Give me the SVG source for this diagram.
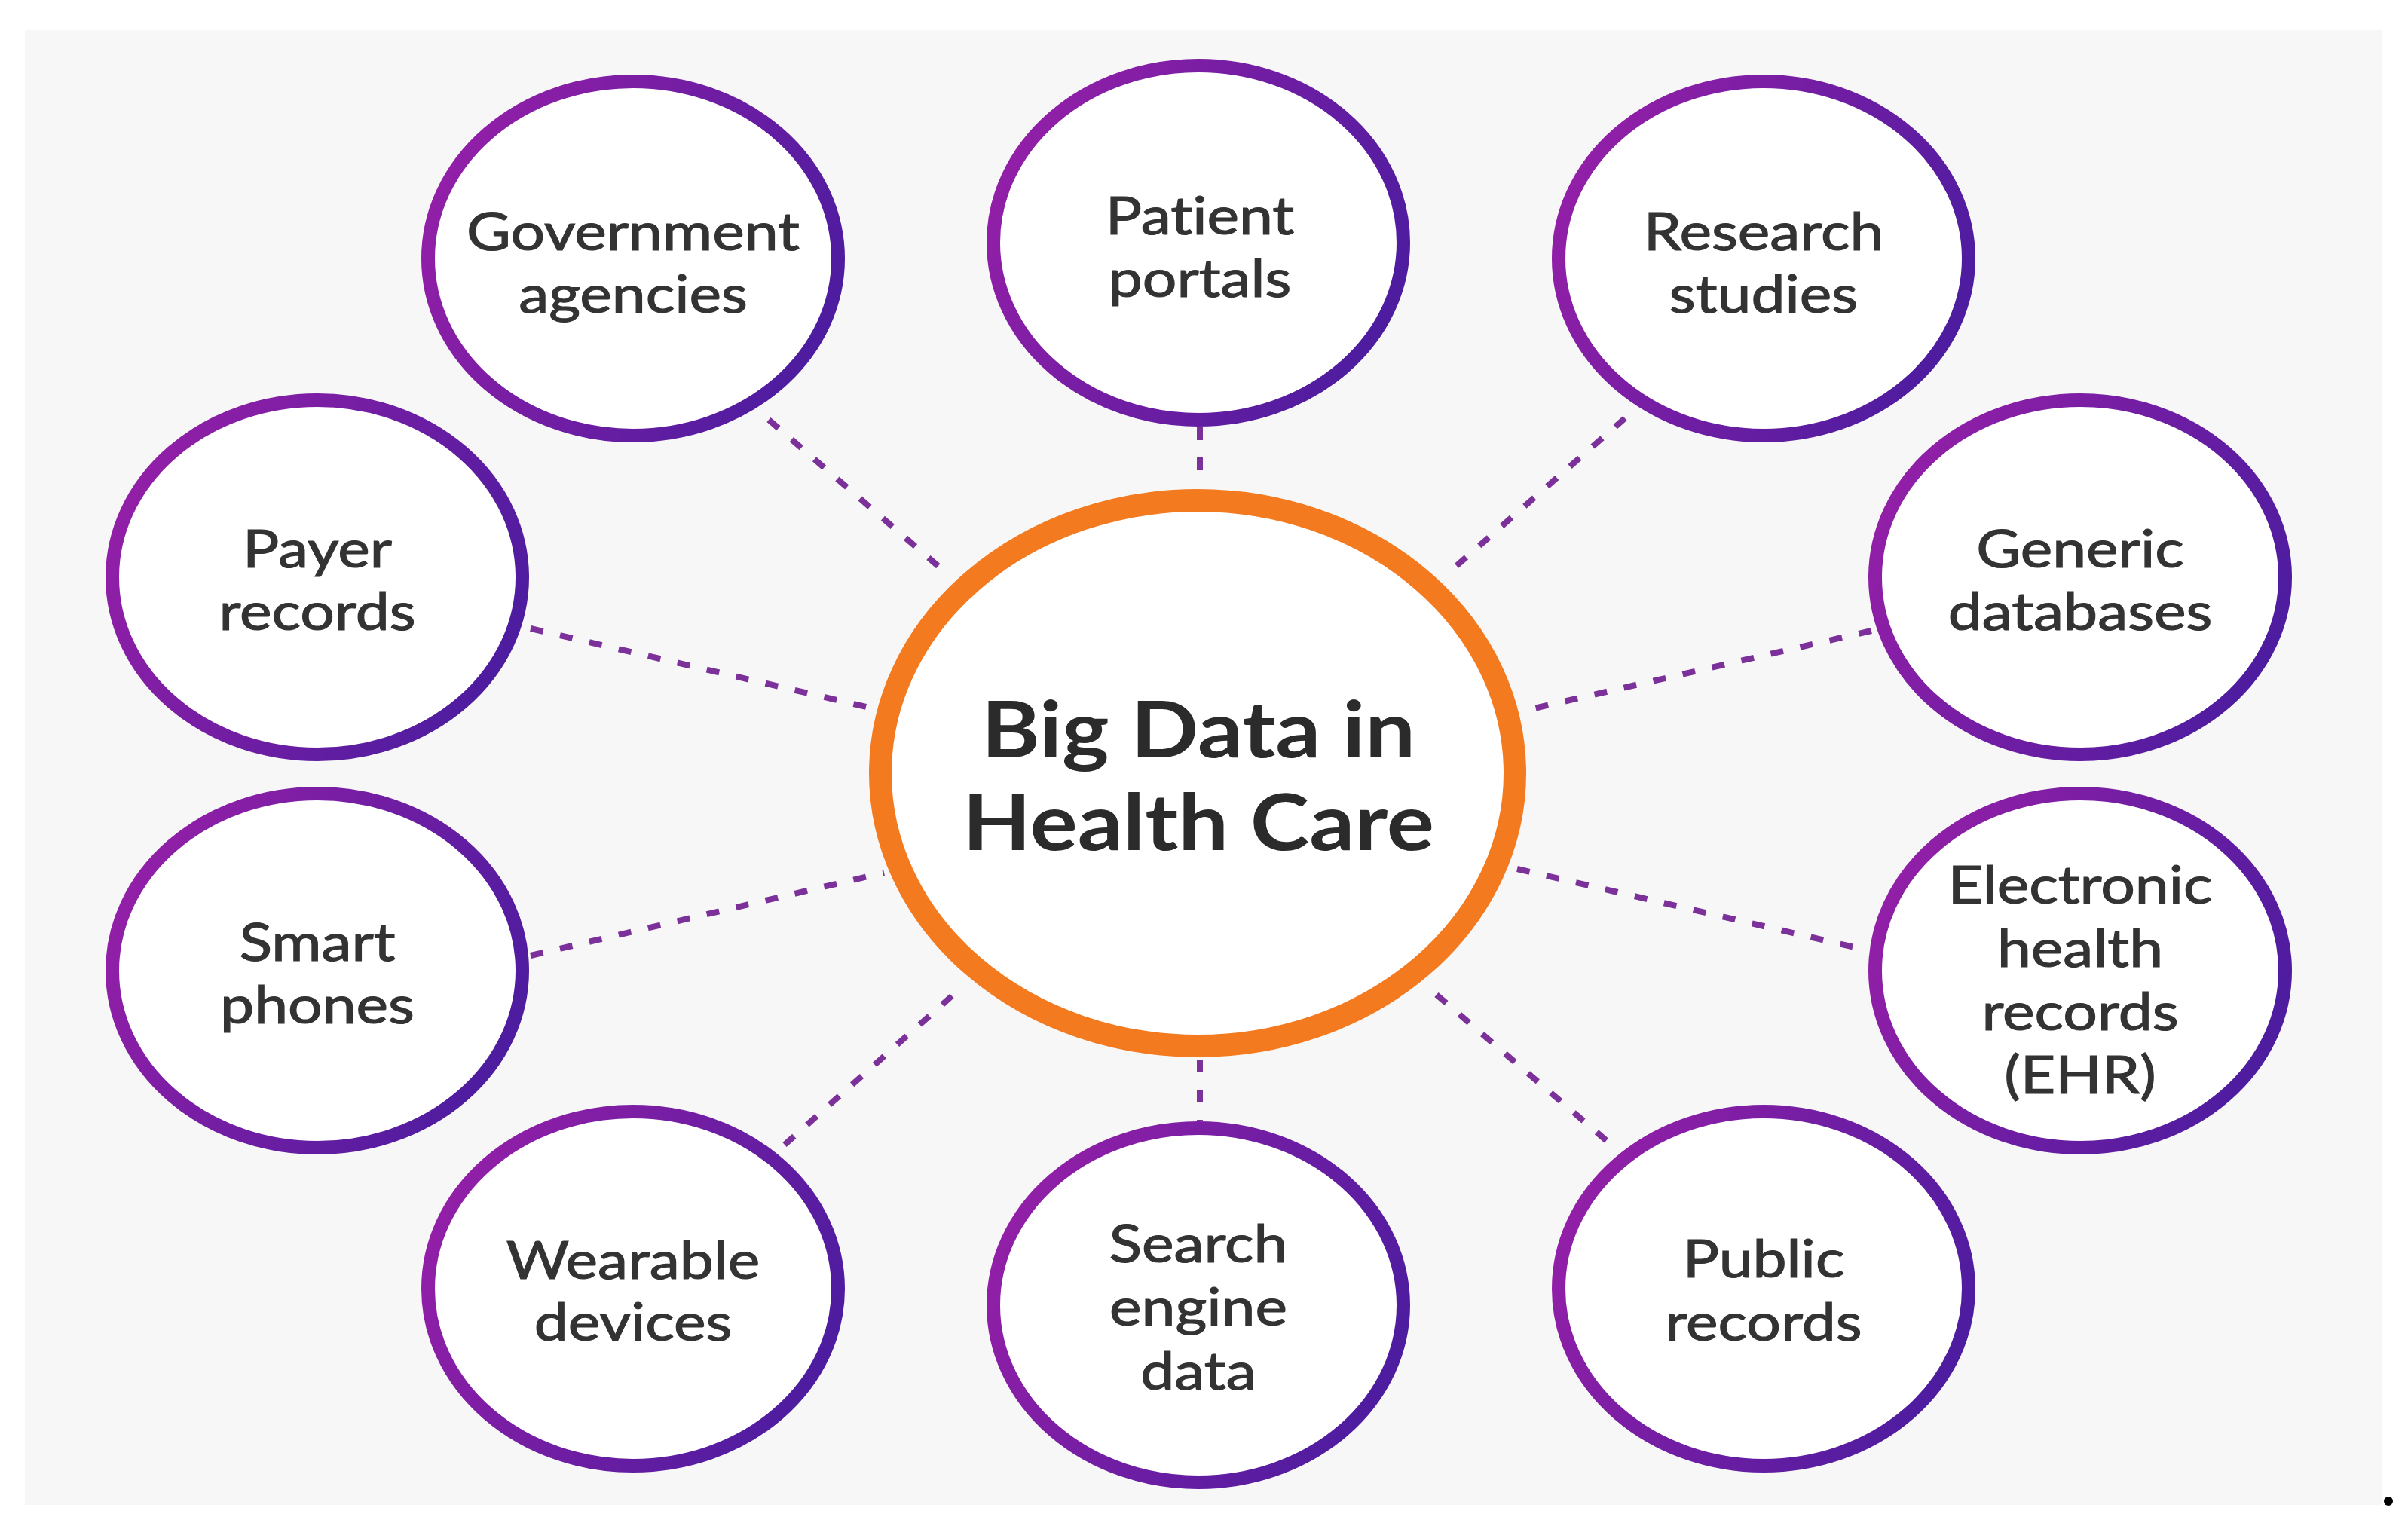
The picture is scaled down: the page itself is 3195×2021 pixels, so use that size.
<svg xmlns="http://www.w3.org/2000/svg" width="3195" height="2021" viewBox="0 0 3195 2021">
  <defs>
    <linearGradient id="pg" x1="0" y1="0.3" x2="1" y2="0.7">
      <stop offset="0" stop-color="#931fa7"/>
      <stop offset="1" stop-color="#4b1c9f"/>
    </linearGradient>
    <style>
      .node { fill: #ffffff; stroke: url(#pg); stroke-width: 18; }
      .hub { fill: #ffffff; stroke: #f47a20; stroke-width: 30; }
      .lbl { font-family: Lato, "Open Sans", sans-serif; font-size: 70px; fill: #333333; stroke: #333333; stroke-width: 1.2; text-anchor: middle; font-variant-ligatures: none; }
      .hubl { font-family: Lato, "Open Sans", sans-serif; font-weight: bold; font-size: 103px; fill: #2b2b2b; text-anchor: middle; font-variant-ligatures: none; }
      .con { stroke: #7b3199; stroke-width: 8; stroke-dasharray: 17 23; fill: none; }
    </style>
  </defs>
  <rect x="0" y="0" width="3195" height="2021" fill="#ffffff"/>
  <rect x="33" y="40" width="3127" height="1957" fill="#f7f7f7"/>

  <g id="connectors">
    <line class="con" x1="1020" y1="557" x2="1255" y2="760"/>
    <line class="con" x1="1592" y1="567" x2="1592" y2="648"/>
    <line class="con" x1="2156" y1="555" x2="1922" y2="760"/>
    <line class="con" x1="704" y1="834" x2="1158" y2="940"/>
    <line class="con" x1="2483" y1="837" x2="2018" y2="944"/>
    <line class="con" x1="704" y1="1268" x2="1173" y2="1158"/>
    <line class="con" x1="1041" y1="1519" x2="1276" y2="1310"/>
    <line class="con" x1="1592" y1="1406" x2="1592" y2="1487"/>
    <line class="con" x1="2013" y1="1153" x2="2478" y2="1261"/>
    <line class="con" x1="1906" y1="1320" x2="2146" y2="1526"/>
  </g>

  <g id="hub">
    <ellipse class="hub" cx="1589" cy="1026" rx="421" ry="362"/>
    <text class="hubl" transform="translate(1590 0) scale(1.15 1)" x="0" y="1005">Big Data in</text>
    <text class="hubl" transform="translate(1590 0) scale(1.15 1)" x="0" y="1128">Health Care</text>
  </g>

  <g id="government">
    <ellipse class="node" cx="840" cy="343" rx="272" ry="235"/>
    <text class="lbl" transform="translate(840 0) scale(1.15 1)" x="0" y="332">Government</text>
    <text class="lbl" transform="translate(840 0) scale(1.15 1)" x="0" y="415">agencies</text>
  </g>
  <g id="patient">
    <ellipse class="node" cx="1590" cy="322" rx="272" ry="235"/>
    <text class="lbl" transform="translate(1592 0) scale(1.15 1)" x="0" y="311">Patient</text>
    <text class="lbl" transform="translate(1592 0) scale(1.15 1)" x="0" y="394">portals</text>
  </g>
  <g id="research">
    <ellipse class="node" cx="2340" cy="343" rx="272" ry="235"/>
    <text class="lbl" transform="translate(2340 0) scale(1.15 1)" x="0" y="332">Research</text>
    <text class="lbl" transform="translate(2340 0) scale(1.15 1)" x="0" y="415">studies</text>
  </g>
  <g id="payer">
    <ellipse class="node" cx="421" cy="766" rx="272" ry="235"/>
    <text class="lbl" transform="translate(421 0) scale(1.15 1)" x="0" y="753">Payer</text>
    <text class="lbl" transform="translate(421 0) scale(1.15 1)" x="0" y="836">records</text>
  </g>
  <g id="generic">
    <ellipse class="node" cx="2760" cy="766" rx="272" ry="235"/>
    <text class="lbl" transform="translate(2760 0) scale(1.15 1)" x="0" y="753">Generic</text>
    <text class="lbl" transform="translate(2760 0) scale(1.15 1)" x="0" y="836">databases</text>
  </g>
  <g id="smart">
    <ellipse class="node" cx="421" cy="1288" rx="272" ry="235"/>
    <text class="lbl" transform="translate(421 0) scale(1.15 1)" x="0" y="1275">Smart</text>
    <text class="lbl" transform="translate(421 0) scale(1.15 1)" x="0" y="1358">phones</text>
  </g>
  <g id="ehr">
    <ellipse class="node" cx="2760" cy="1288" rx="272" ry="235"/>
    <text class="lbl" transform="translate(2760 0) scale(1.15 1)" x="0" y="1199">Electronic</text>
    <text class="lbl" transform="translate(2760 0) scale(1.15 1)" x="0" y="1283">health</text>
    <text class="lbl" transform="translate(2760 0) scale(1.15 1)" x="0" y="1367">records</text>
    <text class="lbl" transform="translate(2760 0) scale(1.15 1)" x="0" y="1451">(EHR)</text>
  </g>
  <g id="wearable">
    <ellipse class="node" cx="840" cy="1710" rx="272" ry="235"/>
    <text class="lbl" transform="translate(840 0) scale(1.15 1)" x="0" y="1697">Wearable</text>
    <text class="lbl" transform="translate(840 0) scale(1.15 1)" x="0" y="1779">devices</text>
  </g>
  <g id="search">
    <ellipse class="node" cx="1590" cy="1732" rx="272" ry="235"/>
    <text class="lbl" transform="translate(1590 0) scale(1.15 1)" x="0" y="1675">Search</text>
    <text class="lbl" transform="translate(1590 0) scale(1.15 1)" x="0" y="1759">engine</text>
    <text class="lbl" transform="translate(1590 0) scale(1.15 1)" x="0" y="1844">data</text>
  </g>
  <g id="public">
    <ellipse class="node" cx="2340" cy="1710" rx="272" ry="235"/>
    <text class="lbl" transform="translate(2340 0) scale(1.15 1)" x="0" y="1695">Public</text>
    <text class="lbl" transform="translate(2340 0) scale(1.15 1)" x="0" y="1779">records</text>
  </g>

  <ellipse cx="3169" cy="1992" rx="6" ry="6" fill="#000000"/>
</svg>
